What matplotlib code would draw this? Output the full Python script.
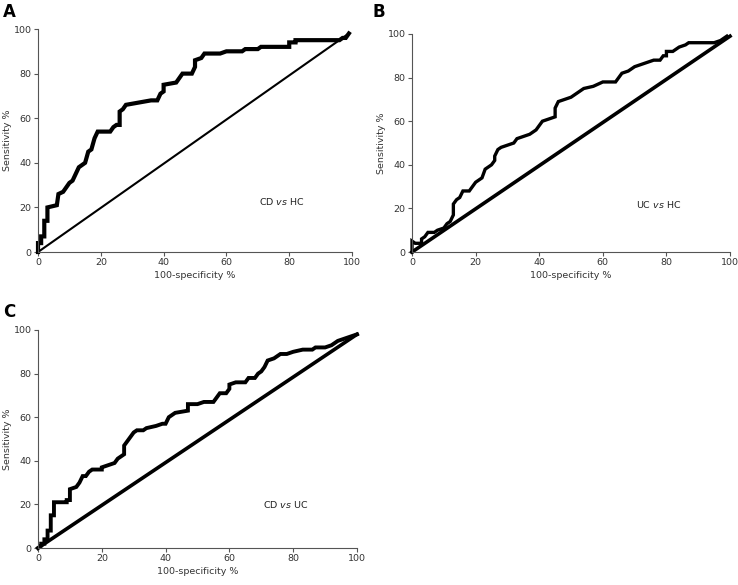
import matplotlib
matplotlib.use("Agg")
import matplotlib.pyplot as plt

# ROC curves (100-specificity %, sensitivity %)
cd_hc_x = [0, 0, 1, 1, 2, 2, 3, 3, 6, 6.5, 8, 9, 10, 11, 12, 13, 14, 15, 16, 17, 18, 19,
           21, 23, 24, 25, 26, 26, 27, 28, 32, 36, 38, 39, 40, 40, 44, 45, 46, 49, 50,
           50, 52, 53, 58, 60, 65, 66, 70, 71, 80, 80, 82, 82, 96, 97, 98, 99]
cd_hc_y = [0, 4, 4, 7, 7, 14, 14, 20, 21, 26, 27, 29, 31, 32, 35, 38, 39, 40, 45, 46, 51, 54,
           54, 54, 56, 57, 57, 63, 64, 66, 67, 68, 68, 71, 72, 75, 76, 78, 80, 80, 83,
           86, 87, 89, 89, 90, 90, 91, 91, 92, 92, 94, 94, 95, 95, 96, 96, 98]

uc_hc_x = [0, 0, 1, 3, 3, 4, 5, 7, 8, 10, 11, 12, 13, 13, 14, 15, 16, 18, 19, 20, 21, 22,
           23, 25, 26, 26, 27, 28, 30, 32, 33, 35, 37, 39, 40, 41, 43, 45, 45, 46, 48, 50,
           52, 54, 57, 60, 64, 65, 66, 68, 70, 74, 76, 78, 79, 80, 80, 82, 84, 86, 87, 95,
           97, 99]
uc_hc_y = [0, 5, 4, 4, 6, 7, 9, 9, 10, 11, 13, 14, 17, 22, 24, 25, 28, 28, 30, 32, 33, 34,
           38, 40, 42, 44, 47, 48, 49, 50, 52, 53, 54, 56, 58, 60, 61, 62, 66, 69, 70, 71,
           73, 75, 76, 78, 78, 80, 82, 83, 85, 87, 88, 88, 90, 90, 92, 92, 94, 95, 96, 96,
           97, 99]

cd_uc_x = [0, 1, 1, 2, 2, 3, 3, 4, 4, 5, 5, 9, 9, 10, 10, 12, 13, 14, 15, 16, 17, 20, 20,
           22, 24, 25, 26, 27, 27, 28, 29, 30, 31, 33, 34, 37, 39, 40, 41, 42, 43, 47, 47,
           50, 52, 55, 56, 57, 59, 60, 60, 62, 65, 66, 68, 69, 70, 71, 72, 74, 75, 76, 78,
           80, 83, 86, 87, 90, 92, 93, 94, 96, 98, 100]
cd_uc_y = [0, 1, 2, 2, 4, 4, 8, 8, 15, 15, 21, 21, 22, 22, 27, 28, 30, 33, 33, 35, 36, 36, 37,
           38, 39, 41, 42, 43, 47, 49, 51, 53, 54, 54, 55, 56, 57, 57, 60, 61, 62, 63, 66,
           66, 67, 67, 69, 71, 71, 73, 75, 76, 76, 78, 78, 80, 81, 83, 86, 87, 88, 89, 89,
           90, 91, 91, 92, 92, 93, 94, 95, 96, 97, 98]

ref_ends = [(99, 98), (100, 99), (100, 98)]
panels = ["A", "B", "C"]
notes = [("CD", "HC"), ("UC", "HC"), ("CD", "UC")]
ticks = [0, 20, 40, 60, 80, 100]

plt.rcParams["font.family"] = "DejaVu Sans"
fig = plt.figure(figsize=(7.38, 5.85), dpi=100)

rects = [[0.0515, 0.5692, 0.4255, 0.3812],
         [0.5583, 0.5692, 0.4309, 0.3727],
         [0.0515, 0.0632, 0.4322, 0.3727]]
curves = [(cd_hc_x, cd_hc_y), (uc_hc_x, uc_hc_y), (cd_uc_x, cd_uc_y)]
diag_lw = [1.5, 2.6, 2.6]
curve_lw = [3.0, 2.4, 2.8]
note_pos = [(70.5, 22.5), (70.5, 22), (70.5, 20)]
letter_pos = [(0.004, 0.995), (0.505, 0.995), (0.004, 0.482)]
fs = 6.8

for i in range(3):
    ax = fig.add_axes(rects[i])
    cx, cy = curves[i]
    ex, ey = ref_ends[i]
    ax.plot([0, ex], [0, ey], color="black", lw=diag_lw[i], clip_on=False)
    ax.plot(cx, cy, color="black", lw=curve_lw[i], clip_on=False,
            solid_joinstyle="miter")
    ax.set_xlim(0, 100)
    ax.set_ylim(0, 100)
    ax.set_xticks(ticks)
    ax.set_yticks(ticks)
    for s in ["top", "right"]:
        ax.spines[s].set_visible(False)
    for s in ["left", "bottom"]:
        ax.spines[s].set_color("#555555")
        ax.spines[s].set_linewidth(0.8)
    ax.tick_params(direction="out", length=3, width=0.8, color="#555555",
                   labelsize=fs, labelcolor="#333333", pad=1.5)
    ax.set_xlabel("100-specificity %", fontsize=fs, color="#333333", labelpad=3)
    ax.set_ylabel("Sensitivity %", fontsize=fs, color="#333333", labelpad=1)
    a, b = notes[i]
    ax.text(note_pos[i][0], note_pos[i][1], a + " $\\mathit{vs}$ " + b,
            fontsize=fs, color="#222222", va="center", ha="left")
    fig.text(letter_pos[i][0], letter_pos[i][1], panels[i], fontsize=12,
             fontweight="bold", va="top", ha="left")

fig.savefig("out.png", dpi=100)
